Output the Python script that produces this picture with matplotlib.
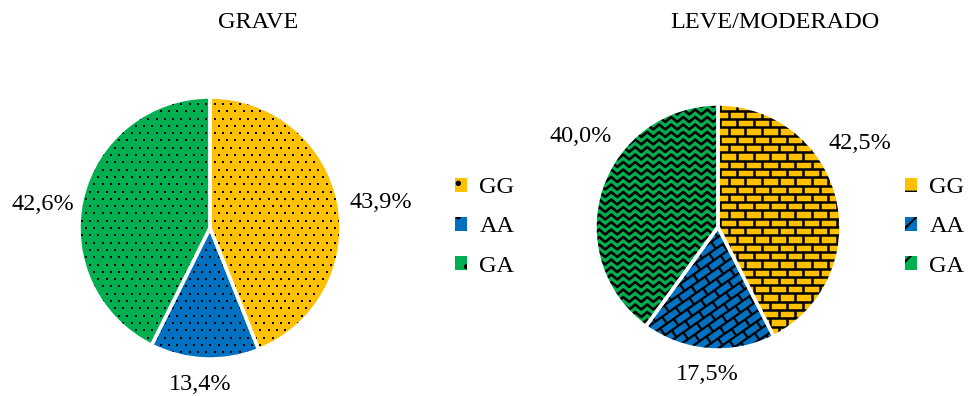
import numpy as np
import matplotlib.pyplot as plt
from matplotlib.collections import LineCollection
from matplotlib.patches import Patch, Wedge

plt.rcParams['font.family'] = ['Liberation Serif', 'DejaVu Serif']

# genotype shares (%) for each group
genotypes = ['GG', 'AA', 'GA']
grave = [43.9, 13.4, 42.6]
leve = [42.5, 17.5, 40.0]
colors = ['#FFC000', '#0070C0', '#00B050']

W, H = 968, 396
fig = plt.figure(figsize=(W / 100, H / 100), dpi=100)
FS = 17.5


def pie_axes(cx, cy, r):
    # axes box in pixels so that a radius-1 pie spans r pixels
    ax = fig.add_axes([(cx - r) / W, (H - cy - r) / H, 2 * r / W, 2 * r / H])
    return ax


def finish(ax, wedges):
    ax.set_xlim(-1, 1)
    ax.set_ylim(-1, 1)
    ax.set_aspect('equal')
    ax.axis('off')
    # white separators on top of the fill patterns
    for w in wedges:
        ax.add_patch(Wedge(w.center, w.r, w.theta1, w.theta2, fill=False,
                           edgecolor='white', linewidth=2.5, zorder=5,
                           clip_on=False))


def rotate(pts, ang):
    a = np.deg2rad(ang)
    R = np.array([[np.cos(a), -np.sin(a)], [np.sin(a), np.cos(a)]])
    return pts @ R.T


def bricks(h, w, ang):
    segs = []
    n = int(1.6 / h) + 1
    for k in range(-n, n + 1):
        y = k * h
        segs.append([(-1.6, y), (1.6, y)])
        off = (k % 2) * w / 2
        for x in np.arange(-1.6 + off, 1.6, w):
            segs.append([(x, y), (x, y + h)])
    return [rotate(np.array(s), ang) for s in segs]


def zigzag(s, p, a):
    segs = []
    n = int(1.6 / s) + 1
    xs = np.arange(-1.6, 1.6, p / 2)
    for k in range(-n, n + 1):
        ys = k * s + (np.arange(len(xs)) % 2) * a
        segs.append(np.column_stack([xs, ys]))
    return segs


def dots(sx, sy):
    pts = []
    n = int(1.2 / sy) + 1
    for k in range(-n, n + 1):
        off = (k % 2) * sx / 2
        for x in np.arange(-1.2 + off, 1.2, sx):
            pts.append((x, k * sy))
    return np.array(pts)


# GRAVE
ax1 = pie_axes(210, 228, 131)
w1, _ = ax1.pie(grave, colors=colors, startangle=90, counterclock=False,
                radius=1, wedgeprops=dict(linewidth=0))
pts = dots(8.3 / 131, 7.3 / 131)
for w in w1:
    sc = ax1.scatter(pts[:, 0], pts[:, 1], s=2.8, marker='s', color='black',
                     linewidths=0, zorder=3)
    sc.set_clip_path(w)
finish(ax1, w1)
fig.text(258 / W, 1 - 22 / H, 'GRAVE', fontsize=FS, ha='center', va='center')
for txt, (x, y) in zip(['43,9%', '13,4%', '42,6%'],
                       [(381, 203), (200, 384), (43, 205)]):
    fig.text(x / W, 1 - y / H, txt, fontsize=FS, ha='center', va='center')

# LEVE/MODERADO
r2 = 123
ax2 = pie_axes(718, 227, r2)
w2, _ = ax2.pie(leve, colors=colors, startangle=90, counterclock=False,
                radius=1, wedgeprops=dict(linewidth=0))
patterns = [
    (bricks(8.3 / r2, 16.6 / r2, 0), 1.8),
    (bricks(8.3 / r2, 16.6 / r2, 35), 1.6),
    (zigzag(7.5 / r2, 12 / r2, 5 / r2), 1.9),
]
for w, (segs, lw) in zip(w2, patterns):
    lc = LineCollection(segs, colors='black', linewidths=lw, zorder=3)
    ax2.add_collection(lc)
    lc.set_clip_path(w)
finish(ax2, w2)
fig.text(775 / W, 1 - 22 / H, 'LEVE/MODERADO', fontsize=FS, ha='center',
         va='center')
for txt, (x, y) in zip(['42,5%', '17,5%', '40,0%'],
                       [(860, 143), (707, 374), (581, 137)]):
    fig.text(x / W, 1 - y / H, txt, fontsize=FS, ha='center', va='center')

# legends
plt.rcParams['hatch.linewidth'] = 1.5
for x0, hatches in [(455, ['.', '.', '.']), (905, ['-', '/', 'x'])]:
    handles = [Patch(facecolor=c, edgecolor='black', hatch=h, linewidth=0)
               for c, h in zip(colors, hatches)]
    fig.legend(handles, genotypes, loc='center left',
               bbox_to_anchor=(x0 / W, 1 - 227 / H), frameon=False,
               fontsize=FS, handlelength=0.5, handleheight=0.5,
               handletextpad=0.5, labelspacing=0.75, borderpad=0,
               borderaxespad=0)

fig.savefig('out.png', dpi=100)
